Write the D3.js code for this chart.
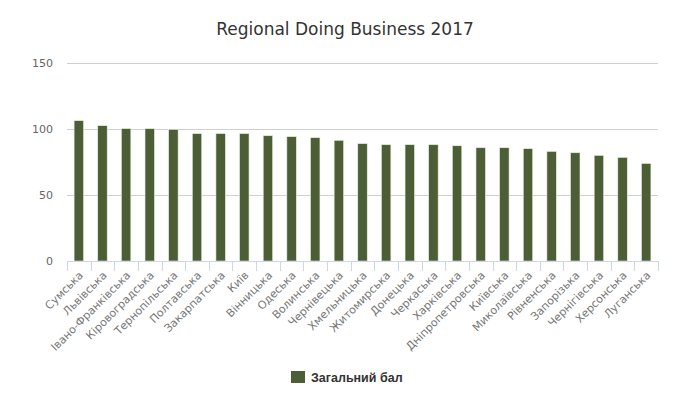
<!DOCTYPE html>
<html><head><meta charset="utf-8">
<script src="https://cdn.jsdelivr.net/npm/d3@7"></script>
<style>body{margin:0;background:#fff}svg{display:block}</style>
</head><body>
<svg id="c" width="690" height="400"></svg>
<script>
const categories = ["Сумська","Львівська","Івано-Франківська","Кіровоградська","Тернопільська","Полтавська","Закарпатська","Київ","Вінницька","Одеська","Волинська","Чернівецька","Хмельницька","Житомирська","Донецька","Черкаська","Харківська","Дніпропетровська","Київська","Миколаївська","Рівненська","Запорізька","Чернігівська","Херсонська","Луганська"];
const values = [106.3,102.5,100.3,100.2,99.7,96.5,96.5,96.5,94.9,94.2,93.4,91.4,88.9,88.1,88.1,88.1,87.3,85.8,85.8,85.1,83.0,82.0,80.0,78.5,73.9];
const yTicks = [0,50,100,150];
const title = "Regional Doing Business 2017";
const seriesName = "Загальний бал";

const svg = d3.select("#c");
const m = {l:67, r:658, t:63, b:261};
const x = d3.scaleBand().domain(categories).range([m.l, m.r]).paddingInner(0.6).paddingOuter(0.3);
const xEdge = d3.scaleBand().domain(categories).range([m.l, m.r]);
const y = d3.scaleLinear().domain([0,150]).range([m.b, m.t]);
const font = "DejaVu Sans, Verdana, sans-serif";

svg.append("text").attr("x",345).attr("y",34.5).attr("text-anchor","middle")
  .attr("font-family",font).attr("font-size",17).attr("fill","#333").text(title);

// grid
svg.append("g").selectAll("line").data(yTicks.filter(d=>d>0)).join("line")
  .attr("x1",m.l).attr("x2",m.r).attr("y1",d=>y(d)+0.5).attr("y2",d=>y(d)+0.5)
  .attr("stroke","#d0d0d0").attr("stroke-width",1);
svg.append("g").selectAll("text").data(yTicks).join("text")
  .attr("x",53).attr("y",d=>y(d)+4).attr("text-anchor","end")
  .attr("font-family",font).attr("font-size",11).attr("fill","#666").text(d=>d);

// bars
svg.append("g").selectAll("rect").data(values).join("rect")
  .attr("x",(d,i)=>x(categories[i])).attr("width",x.bandwidth())
  .attr("y",d=>y(d)).attr("height",d=>y(0)-y(d))
  .attr("fill","#4b5e35").attr("stroke","#e8eedd").attr("stroke-width",0.6);

// x axis
svg.append("line").attr("x1",m.l).attr("x2",m.r+1).attr("y1",m.b+0.5).attr("y2",m.b+0.5)
  .attr("stroke","#ccd6eb");
const edges = categories.map(c=>xEdge(c)).concat([m.r]);
svg.append("g").selectAll("line").data(edges).join("line")
  .attr("x1",d=>Math.round(d)+0.5).attr("x2",d=>Math.round(d)+0.5)
  .attr("y1",m.b).attr("y2",m.b+10).attr("stroke","#ccd6eb");
svg.append("g").selectAll("text").data(categories).join("text")
  .attr("transform",c=>`translate(${x(c)+x.bandwidth()/2+5},${m.b+15}) rotate(-45)`)
  .attr("text-anchor","end").attr("font-family",font).attr("font-size",11)
  .attr("fill","#777").text(c=>c);

// legend
svg.append("rect").attr("x",291).attr("y",371).attr("width",14).attr("height",12).attr("fill","#4b5e35");
svg.append("text").attr("x",311).attr("y",381.5).attr("font-family","Liberation Sans, Arial, sans-serif").attr("font-size",12.5)
  .attr("font-weight","bold").attr("fill","#333").text(seriesName);
</script>
</body></html>
